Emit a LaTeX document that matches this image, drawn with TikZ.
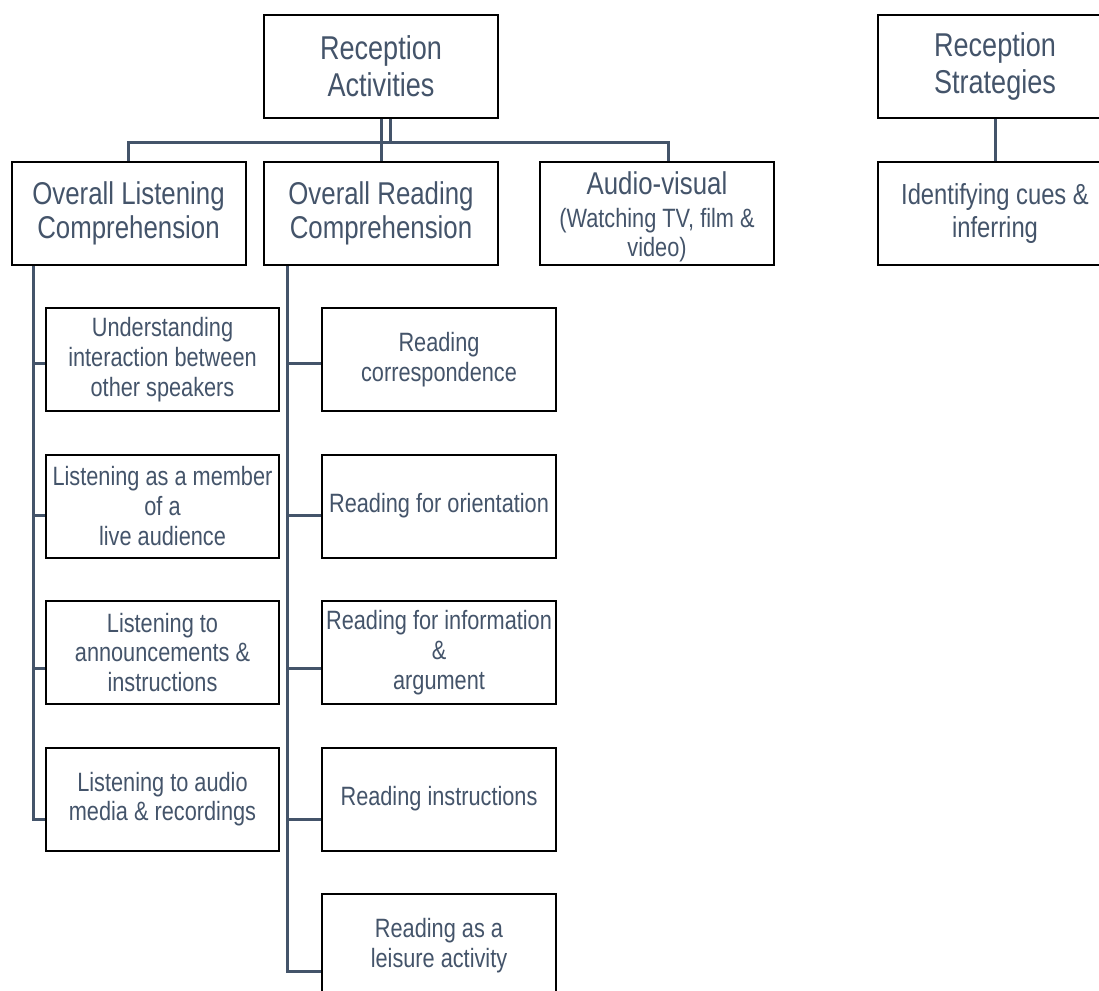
\documentclass[tikz,border=0pt]{standalone}
\usepackage{fontspec}
\setmainfont{Liberation Sans}[FakeStretch=0.82]
\usetikzlibrary{calc}
\definecolor{txt}{HTML}{44546A}
\definecolor{linec}{HTML}{44546A}
\tikzset{
  box/.style={draw=black, line width=2pt, fill=white, inner sep=0pt, align=center, text=txt},
  topbox/.style={box, minimum width=234pt, minimum height=103pt, font=\fontsize{33}{37}\selectfont},
  midbox/.style={box, minimum width=234pt, minimum height=103pt, font=\fontsize{31.5}{34}\selectfont},
  avbox/.style={box, minimum width=234pt, minimum height=103pt, font=\fontsize{26.5}{29}\selectfont},
  icbox/.style={box, minimum width=234pt, minimum height=103pt, font=\fontsize{29}{33}\selectfont},
  leafbox/.style={box, minimum width=233pt, minimum height=103pt, font=\fontsize{26.5}{29.7}\selectfont},
  conn/.style={draw=linec, line width=3pt},
}
\begin{document}
\begin{tikzpicture}[x=1pt,y=-1pt]
\fill[white] (0,0) rectangle (1099,990);
\useasboundingbox (0,0) rectangle (1099,990);

% top level
\node[topbox] (RA) at (381,66.5) {Reception\\Activities};
\node[topbox] (RS) at (995,66.5) {Reception\\Strategies};

% second level
\node[midbox] (OL) at (128.5,213.5) {Overall Listening\\Comprehension};
\node[midbox] (OR) at (381,213.5) {Overall Reading\\Comprehension};
\node[avbox] (AV) at (657,213.5) {};
\node[txt, align=center, inner sep=0pt, font=\fontsize{26.5}{29}\selectfont] (AVt) at ($(AV.center)+(0,3.5)$) {{\fontsize{31.5}{34}\selectfont Audio-visual}\\[4pt](Watching TV, film \&\\video)};
\node[icbox] (IC) at (995,213.5) {Identifying cues \&\\inferring};

% listening leaves
\node[leafbox] (L1) at (162.5,359.5) {Understanding\\interaction between\\other speakers};
\node[leafbox] (L2) at (162.5,506) {Listening as a member\\of a\\live audience};
\node[leafbox] (L3) at (162.5,652.5) {Listening to\\announcements \&\\instructions};
\node[leafbox] (L4) at (162.5,799) {Listening to audio\\media \& recordings};

% reading leaves
\node[leafbox, minimum width=234pt] (R1) at (439,359.5) {Reading\\correspondence};
\node[leafbox, minimum width=234pt] (R2) at (439,506) {Reading for orientation};
\node[leafbox, minimum width=234pt] (R3) at (439,652.5) {Reading for information\\\&\\argument};
\node[leafbox, minimum width=234pt] (R4) at (439,799) {Reading instructions};
\node[leafbox, minimum width=234pt] (R5) at (439,945.5) {Reading as a\\leisure activity};

% connection points
\coordinate (raR) at ($(RA.south)+(9,0)$);
\coordinate (avT) at ($(AV.north)+(11,0)$);
\coordinate (lt) at ($(OL.south west)+(23,0)$);
\coordinate (rt) at ($(OR.south west)+(24,0)$);
\coordinate (L1c) at ($(L1.west)+(0,3.5)$);
\coordinate (L2c) at ($(L2.west)+(0,9)$);
\coordinate (L3c) at ($(L3.west)+(0,15.5)$);
\coordinate (L4c) at ($(L4.west)+(0,20)$);
\coordinate (R1c) at ($(R1.west)+(0,3.5)$);
\coordinate (R2c) at ($(R2.west)+(0,9)$);
\coordinate (R3c) at ($(R3.west)+(0,15.5)$);
\coordinate (R4c) at ($(R4.west)+(0,20)$);
\coordinate (R5c) at ($(R5.west)+(0,25.5)$);

% connectors level 1
\draw[conn] (RA.south) -- (OR.north);
\draw[conn] (raR) -- ++(0,23) -| (OL.north);
\draw[conn] (raR) -- ++(0,23) -| (avT);
\draw[conn] (RS.south) -- (IC.north);

% listening trunk
\draw[conn] (lt) |- (L4c);
\draw[conn] (L1c -| lt) -- (L1c);
\draw[conn] (L2c -| lt) -- (L2c);
\draw[conn] (L3c -| lt) -- (L3c);

% reading trunk
\draw[conn] (rt) |- (R5c);
\draw[conn] (R1c -| rt) -- (R1c);
\draw[conn] (R2c -| rt) -- (R2c);
\draw[conn] (R3c -| rt) -- (R3c);
\draw[conn] (R4c -| rt) -- (R4c);
\end{tikzpicture}
\end{document}
